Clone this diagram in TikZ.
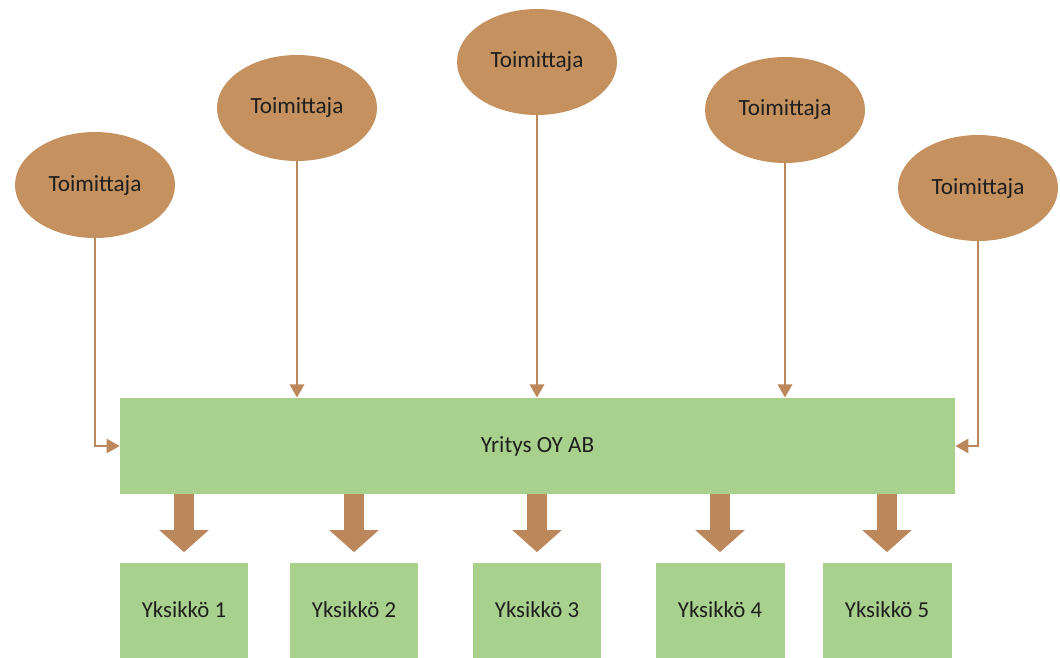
\documentclass[tikz,border=0pt]{standalone}
\usepackage{fontspec}
\setmainfont{Carlito}
\usetikzlibrary{shapes.geometric, arrows.meta}

\definecolor{supplierbrown}{HTML}{C4915F}
\definecolor{linkbrown}{HTML}{BC875A}
\definecolor{unitgreen}{HTML}{A9D18E}
\definecolor{textdark}{HTML}{1E1E1E}

\tikzset{
  supplier/.style={ellipse, fill=supplierbrown, minimum width=3.2cm, minimum height=2.12cm,
    inner sep=0pt, text=textdark, font=\fontsize{13.2}{15}\selectfont},
  company/.style={rectangle, fill=unitgreen, minimum width=16.7cm, minimum height=1.92cm,
    inner sep=0pt, text=textdark, font=\fontsize{13.2}{15}\selectfont},
  unit/.style={rectangle, fill=unitgreen, minimum width=2.58cm, minimum height=1.9cm,
    inner sep=0pt, text=textdark, font=\fontsize{13}{15}\selectfont},
  feed/.style={draw=linkbrown, line width=1.5pt, -{Triangle[width=8pt,length=7.5pt]}},
  bigarrow/.style={draw=linkbrown, line width=0.4cm, shorten >=0.2cm,
    -{Triangle[width=0.96cm,length=0.44cm]}}
}

\begin{document}
\begin{tikzpicture}[x=0.02cm, y=-0.02cm]
  % fixed frame of the picture
  \useasboundingbox (0,0) rectangle (1060,657);

  % suppliers
  \node[supplier] (sup1) at (95,185) {Toimittaja};
  \node[supplier] (sup2) at (297,108) {Toimittaja};
  \node[supplier] (sup3) at (537,62) {Toimittaja};
  \node[supplier] (sup4) at (785,110) {Toimittaja};
  \node[supplier] (sup5) at (978,188) {Toimittaja};

  % the company
  \node[company] (firm) at (537.5,446) {Yritys OY AB};

  % the units
  \node[unit] (unit1) at (184,610) {Yksikkö 1};
  \node[unit] (unit2) at (354,610) {Yksikkö 2};
  \node[unit] (unit3) at (537,610) {Yksikkö 3};
  \node[unit] (unit4) at (720,610) {Yksikkö 4};
  \node[unit] (unit5) at (887,610) {Yksikkö 5};

  % supplier links
  \draw[feed] (sup1.south) |- (firm.west);
  \draw[feed] (sup2.south) -- (sup2.south |- firm.north);
  \draw[feed] (sup3.south) -- (sup3.south |- firm.north);
  \draw[feed] (sup4.south) -- (sup4.south |- firm.north);
  \draw[feed] (sup5.south) |- (firm.east);

  % block arrows down to the units
  \foreach \u in {1,...,5}
    \draw[bigarrow] (unit\u.north |- firm.south) -- (unit\u.north);
\end{tikzpicture}
\end{document}
